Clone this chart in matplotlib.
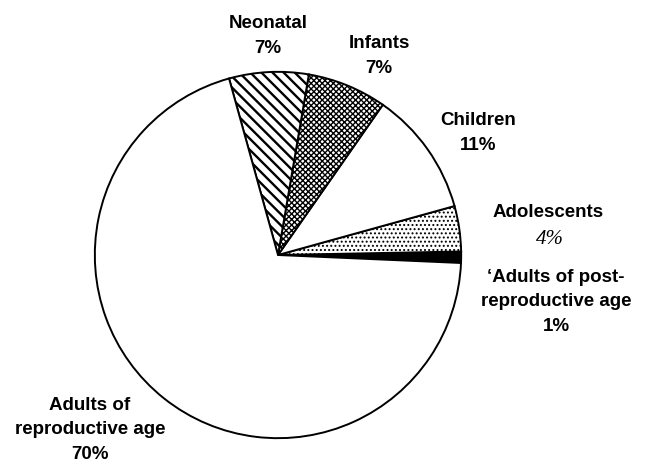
import matplotlib
matplotlib.use("Agg")
import matplotlib.pyplot as plt

# Data (counter-clockwise from the black slice)
categories = ["Adults of post-reproductive age", "Adolescents", "Children",
              "Infants", "Neonatal", "Adults of reproductive age"]
shares = [1, 4, 11, 7, 7, 70]
label_texts = ["\u2018Adults of post-\nreproductive age\n1%", "Adolescents", "Children\n11%",
               "Infants\n7%", "Neonatal\n7%", "Adults of\nreproductive age\n70%"]
adolescent_pct = "4%"

W, H = 648, 464
fig = plt.figure(figsize=(W / 100, H / 100), dpi=100)

cx, cy, r = 278, 256, 185
ax = fig.add_axes([(cx - r) / W, (H - cy - r) / H, 2 * r / W, 2 * r / H])

faces = ["black", "white", "white", "white", "white", "white"]
hatches = [None, "....", None, "xxxxxx", "\\\\\\", None]
hatch_lw = [1, 0.9, 1, 1.0, 1.7, 1]
wedges, _ = ax.pie(shares, startangle=-2.5, counterclock=True, colors=faces,
                   wedgeprops=dict(edgecolor="black", linewidth=1.4))
for w, h, lw in zip(wedges, hatches, hatch_lw):
    if h:
        w.set_hatch(h)
        if hasattr(w, "set_hatch_linewidth"):
            w.set_hatch_linewidth(lw)
ax.set_xlim(-1.01, 1.01)
ax.set_ylim(-1.01, 1.01)
ax.set_aspect("equal")
ax.axis("off")

font = dict(family="Liberation Sans", weight="bold", fontsize=13.5,
            ha="center", va="center", linespacing=1.6)

def px(x, y):
    return x / W, 1 - y / H

# label positions (pixel centres)
pos = {
    "Neonatal": (268, 36),
    "Infants": (379, 56),
    "Children": (478, 133),
    "Adolescents": (548, 213),
    "Adults of post-reproductive age": (556, 302),
    "Adults of reproductive age": (90, 430),
}
for cat, txt in zip(categories, label_texts):
    fig.text(*px(*pos[cat]), txt, **font)

fig.text(*px(550, 240), adolescent_pct, family="Liberation Serif", style="italic",
         fontsize=15, ha="center", va="center")

fig.savefig("out.png", dpi=100)
